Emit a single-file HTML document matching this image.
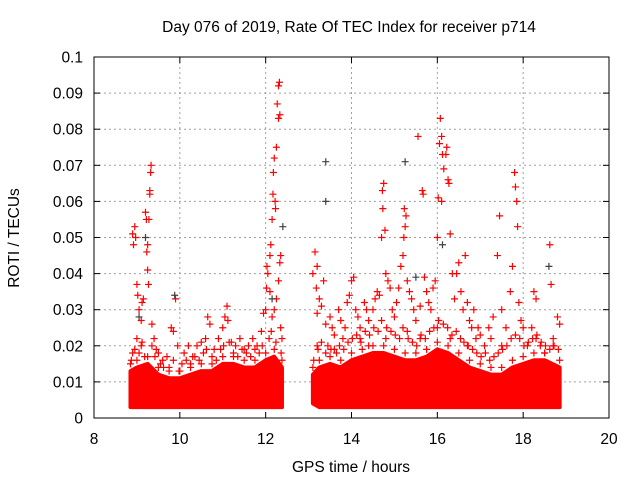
<!DOCTYPE html>
<html><head><meta charset="utf-8"><style>
body{margin:0;background:#fff;}
svg{display:block;font-family:"Liberation Sans",sans-serif;}
</style></head><body>
<svg id="chart" width="640" height="480">
<text x="349" y="32" font-size="15.5" text-anchor="middle">Day 076 of 2019, Rate Of TEC Index for receiver p714</text>
<text x="351" y="472" font-size="15.5" text-anchor="middle">GPS time / hours</text>
<text transform="translate(19,238) rotate(-90)" font-size="15.5" text-anchor="middle">ROTI / TECUs</text>
<g id="grid"></g><g id="band"></g><g id="pts"></g><g id="axes"></g>
</svg>
<script>
const xTicks=[8,10,12,14,16,18,20];
const yTicks=[0,0.01,0.02,0.03,0.04,0.05,0.06,0.07,0.08,0.09,0.1];
const yTickLabels=["0","0.01","0.02","0.03","0.04","0.05","0.06","0.07","0.08","0.09","0.1"];
const band1T=[8.85,9.0,9.25,9.5,9.75,10,10.25,10.5,10.75,11,11.25,11.5,11.75,12,12.2,12.38];
const band1Low=[0.003,0.003,0.003,0.003,0.003,0.003,0.003,0.003,0.003,0.003,0.003,0.003,0.003,0.003,0.003,0.003];
const band1High=[0.013,0.014,0.015,0.012,0.011,0.011,0.012,0.013,0.013,0.015,0.015,0.014,0.014,0.016,0.017,0.014];
const band2T=[13.1,13.25,13.5,13.75,14,14.25,14.5,14.75,15,15.25,15.5,15.75,16,16.25,16.5,16.75,17,17.25,17.5,17.75,18,18.25,18.5,18.85];
const band2Low=[0.004,0.003,0.003,0.003,0.003,0.003,0.003,0.003,0.003,0.003,0.003,0.003,0.003,0.003,0.003,0.003,0.003,0.003,0.003,0.003,0.003,0.003,0.003,0.003];
const band2High=[0.012,0.014,0.015,0.014,0.016,0.017,0.018,0.018,0.017,0.016,0.016,0.017,0.019,0.018,0.016,0.014,0.013,0.012,0.012,0.014,0.015,0.016,0.016,0.014];
const midT=[8.87,8.95,9.05,9.12,9.18,9.35,9.42,9.55,9.62,9.75,9.85,9.98,10.05,10.15,10.25,10.35,10.45,10.55,10.62,10.75,10.85,10.95,11.02,11.15,11.25,11.35,11.45,11.55,11.65,11.75,11.85,11.92,12.08,12.13,12.24,12.36,
13.12,13.22,13.3,13.45,13.52,13.65,13.72,13.82,13.92,14.02,14.12,14.22,14.32,14.42,14.52,14.62,14.7,14.82,14.92,15.02,15.12,15.2,15.32,15.42,15.52,15.62,15.72,15.82,15.92,16.03,16.14,16.24,16.34,16.44,16.54,16.62,16.72,16.82,16.92,17.02,17.12,17.22,17.32,17.42,17.52,17.62,17.72,17.82,17.92,18.02,18.12,18.22,18.32,18.42,18.52,18.62,18.72,18.82];
const midV=[0.016,0.019,0.018,0.021,0.017,0.02,0.017,0.015,0.014,0.014,0.016,0.013,0.015,0.016,0.015,0.017,0.016,0.018,0.019,0.017,0.016,0.019,0.02,0.021,0.018,0.017,0.019,0.018,0.017,0.019,0.018,0.02,0.022,0.024,0.021,0.018,
0.016,0.019,0.021,0.02,0.019,0.018,0.02,0.019,0.021,0.022,0.023,0.021,0.024,0.023,0.025,0.024,0.027,0.025,0.024,0.023,0.022,0.025,0.022,0.021,0.02,0.023,0.022,0.024,0.025,0.027,0.026,0.025,0.023,0.024,0.022,0.021,0.02,0.019,0.018,0.017,0.018,0.016,0.017,0.018,0.019,0.02,0.022,0.023,0.022,0.02,0.021,0.022,0.023,0.021,0.02,0.019,0.02,0.019];
const redT=[8.9,8.92,8.95,8.97,9.0,9.02,9.05,9.1,9.12,9.15,9.2,9.22,9.25,9.23,9.25,9.27,9.3,9.3,9.32,9.33,9.28,9.35,9.4,9.45,8.9,9.0,9.1,9.5,9.6,9.7,9.8,9.85,9.9,9.95,10.1,10.2,10.3,10.4,10.5,10.6,10.65,10.7,10.8,10.9,11.0,11.05,11.1,11.12,11.2,11.3,11.4,11.5,11.6,11.7,11.8,11.9,11.95,12.0,12.02,12.05,12.03,12.1,12.12,12.15,12.17,12.18,12.2,12.22,12.23,12.25,12.27,12.3,12.32,12.3,12.33,12.35,12.33,12.3,12.25,12.2,12.15,12.35,12.38,12.1,
13.1,13.15,13.2,13.18,13.25,13.3,13.35,13.2,13.4,13.5,13.55,13.6,13.7,13.75,13.8,13.85,13.9,13.95,14.0,14.05,14.1,14.15,14.2,14.3,14.35,14.4,14.5,14.55,14.6,14.65,14.7,14.72,14.75,14.73,14.78,14.8,14.85,14.9,14.95,15.0,15.05,15.1,15.15,15.2,15.22,15.25,15.27,15.23,15.3,15.35,15.4,15.45,15.5,15.55,15.6,15.65,15.67,15.7,15.75,15.8,15.85,15.9,15.95,16.0,16.02,16.05,16.07,16.1,16.12,16.15,16.1,16.2,16.22,16.25,16.27,16.3,16.35,16.4,16.45,16.5,16.55,16.6,16.65,16.7,16.75,16.8,16.85,16.9,16.95,17.0,17.1,17.2,17.25,17.3,17.4,17.45,17.5,17.6,17.7,17.75,17.8,17.82,17.85,17.87,17.9,17.95,18.0,18.1,18.2,18.25,18.3,18.4,18.5,18.62,18.65,18.7,18.8,18.85,13.2,13.4,13.6,14.2,14.4,14.8,15.3,15.6,16.0,16.3,16.7,17.5,18.3,18.7];
const redV=[0.051,0.048,0.053,0.05,0.037,0.034,0.03,0.027,0.032,0.033,0.057,0.055,0.048,0.046,0.041,0.037,0.062,0.063,0.068,0.07,0.055,0.026,0.022,0.019,0.018,0.022,0.02,0.018,0.016,0.017,0.025,0.024,0.033,0.02,0.018,0.02,0.017,0.02,0.021,0.022,0.028,0.026,0.019,0.022,0.025,0.028,0.031,0.027,0.021,0.02,0.022,0.019,0.02,0.022,0.02,0.024,0.029,0.03,0.036,0.04,0.042,0.045,0.048,0.055,0.062,0.068,0.072,0.06,0.058,0.075,0.087,0.092,0.093,0.083,0.084,0.045,0.043,0.038,0.033,0.03,0.028,0.025,0.022,0.035,
0.04,0.046,0.042,0.036,0.033,0.031,0.038,0.029,0.026,0.028,0.025,0.023,0.03,0.027,0.022,0.025,0.032,0.034,0.038,0.039,0.03,0.028,0.025,0.032,0.03,0.027,0.03,0.033,0.035,0.034,0.05,0.063,0.065,0.058,0.052,0.04,0.038,0.036,0.03,0.028,0.032,0.036,0.042,0.045,0.05,0.053,0.056,0.058,0.038,0.035,0.033,0.03,0.027,0.078,0.031,0.063,0.062,0.039,0.035,0.032,0.03,0.036,0.038,0.05,0.061,0.076,0.083,0.078,0.073,0.069,0.06,0.073,0.075,0.066,0.065,0.051,0.04,0.033,0.04,0.043,0.035,0.03,0.045,0.032,0.027,0.025,0.03,0.022,0.025,0.023,0.02,0.025,0.022,0.028,0.045,0.056,0.03,0.025,0.035,0.042,0.068,0.064,0.06,0.053,0.032,0.027,0.025,0.02,0.025,0.035,0.033,0.02,0.018,0.048,0.037,0.022,0.028,0.026,0.02,0.018,0.019,0.022,0.02,0.022,0.024,0.022,0.025,0.022,0.02,0.02,0.022,0.02];
const blackT=[13.4,13.4,15.25,16.12,12.4,9.2,9.05,9.88,18.6,15.5,12.15];
const blackV=[0.071,0.06,0.071,0.048,0.053,0.05,0.028,0.034,0.042,0.039,0.033];

const X0=94,X1=609,Y0=418,Y1=57;
const xs=t=>X0+(t-8)/12*(X1-X0);
const ys=v=>Y0-v/0.1*(Y0-Y1);
const NS="http://www.w3.org/2000/svg";
function mk(tag,attrs,parent){const e=document.createElementNS(NS,tag);for(const k in attrs)e.setAttribute(k,attrs[k]);parent.appendChild(e);return e;}
const grid=document.getElementById('grid'),axes=document.getElementById('axes'),band=document.getElementById('band'),pts=document.getElementById('pts');
xTicks.forEach((t,i)=>{
 if(i>0&&i<xTicks.length-1){const g=mk('line',{x1:xs(t),x2:xs(t),y1:Y1,y2:Y0,stroke:'#a0a0a0','stroke-dasharray':'2,3'},grid);
 }
 mk('line',{x1:xs(t),x2:xs(t),y1:Y0,y2:Y0-6,stroke:'#000'},axes);
 mk('line',{x1:xs(t),x2:xs(t),y1:Y1,y2:Y1+6,stroke:'#000'},axes);
 const l=mk('text',{x:xs(t),y:Y0+26,'font-size':15.5,'text-anchor':'middle'},axes);l.textContent=t;
 
});
yTicks.forEach((v,i)=>{
 if(i>0&&i<yTicks.length-1){const g=mk('line',{x1:X0,x2:X1,y1:ys(v),y2:ys(v),stroke:'#a0a0a0','stroke-dasharray':'2,3'},grid);
 }
 mk('line',{x1:X0,x2:X0+6,y1:ys(v),y2:ys(v),stroke:'#000'},axes);
 mk('line',{x1:X1,x2:X1-6,y1:ys(v),y2:ys(v),stroke:'#000'},axes);
 const l=mk('text',{x:X0-11,y:ys(v)+5.5,'font-size':15.5,'text-anchor':'end'},axes);l.textContent=yTickLabels[i];
 
});
const frame=mk('rect',{x:X0,y:Y1,width:X1-X0,height:Y0-Y1,fill:'none',stroke:'#000'},axes);

function plus(t,v,c,name){const x=xs(t),y=ys(v);
 const p=mk('path',{d:`M${x-3.5},${y}H${x+3.5}M${x},${y-3.5}V${y+3.5}`,stroke:c,'stroke-width':1.2},pts);
 }
function drawBand(T,L,H,name){
 let d='M'+T.map((t,i)=>xs(t)+','+ys(H[i])).join('L')+'L'+T.map((t,i)=>xs(t)+','+ys(L[i])).reverse().join('L')+'Z';
 const p=mk('path',{d:d,fill:'#ff0000',stroke:'#ff0000','stroke-width':4,'stroke-linejoin':'round'},band);
 
 T.forEach((t,i)=>{plus(t,H[i]+0.002,'#ff0000','roti-point');});
}
drawBand(band1T,band1Low,band1High,'dense-band-1');
drawBand(band2T,band2Low,band2High,'dense-band-2');
midT.forEach((t,i)=>plus(t,midV[i],'#ff0000','roti-point'));
redT.forEach((t,i)=>plus(t,redV[i],'#ff0000','roti-point'));
blackT.forEach((t,i)=>plus(t,blackV[i],'#404040','roti-point-alt'));
</script>
</body></html>
